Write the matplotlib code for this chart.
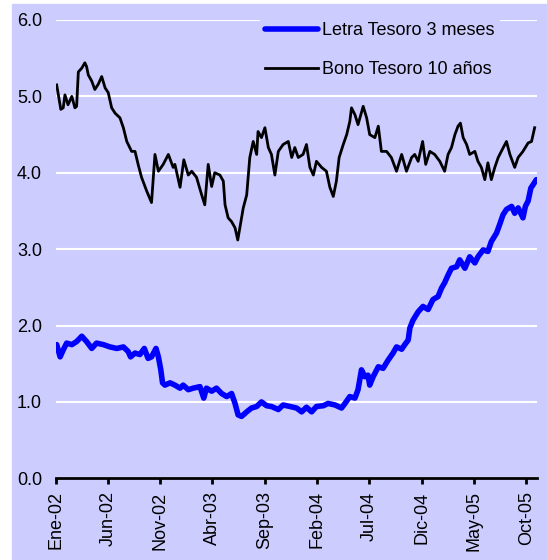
import pandas as pd
import matplotlib.pyplot as plt

# Bono Tesoro 10 años
bono_dates = [
    "2002-01-03", "2002-01-15", "2002-01-22", "2002-01-27", "2002-02-05", "2002-02-16",
    "2002-02-25", "2002-03-02", "2002-03-07", "2002-03-17", "2002-03-26", "2002-03-31",
    "2002-04-05", "2002-04-15", "2002-04-24", "2002-05-04", "2002-05-14", "2002-05-24",
    "2002-06-02", "2002-06-12", "2002-06-22", "2002-07-06", "2002-07-16", "2002-07-26",
    "2002-08-09", "2002-08-19", "2002-08-28", "2002-09-07", "2002-09-22", "2002-10-06",
    "2002-10-16", "2002-10-26", "2002-11-09", "2002-11-24", "2002-12-08", "2002-12-13",
    "2002-12-28", "2003-01-08", "2003-01-21", "2003-01-31", "2003-02-14", "2003-03-01",
    "2003-03-10", "2003-03-20", "2003-03-30", "2003-04-08", "2003-04-23", "2003-05-03",
    "2003-05-08", "2003-05-17", "2003-05-27", "2003-06-06", "2003-06-14", "2003-06-20",
    "2003-06-30", "2003-07-10", "2003-07-19", "2003-07-29", "2003-08-08", "2003-08-12",
    "2003-08-22", "2003-09-01", "2003-09-11", "2003-09-20", "2003-09-30", "2003-10-10",
    "2003-10-24", "2003-11-08", "2003-11-18", "2003-11-27", "2003-12-07", "2003-12-21",
    "2003-12-31", "2004-01-10", "2004-01-20", "2004-01-29", "2004-02-13", "2004-02-27",
    "2004-03-08", "2004-03-18", "2004-03-27", "2004-04-04", "2004-04-16", "2004-04-26",
    "2004-05-05", "2004-05-10", "2004-05-20", "2004-05-29", "2004-06-13", "2004-06-23",
    "2004-07-02", "2004-07-17", "2004-07-27", "2004-08-05", "2004-08-20", "2004-09-03",
    "2004-09-18", "2004-10-03", "2004-10-17", "2004-11-01", "2004-11-10", "2004-11-20",
    "2004-12-03", "2004-12-12", "2004-12-24", "2005-01-07", "2005-01-22", "2005-02-05",
    "2005-02-15", "2005-02-25", "2005-03-07", "2005-03-16", "2005-03-23", "2005-03-31",
    "2005-04-10", "2005-04-19", "2005-05-04", "2005-05-13", "2005-05-23", "2005-06-02",
    "2005-06-11", "2005-06-21", "2005-07-01", "2005-07-11", "2005-07-20", "2005-08-04",
    "2005-08-14", "2005-08-28", "2005-09-07", "2005-09-21", "2005-10-06", "2005-10-16",
    "2005-10-25",
]
bono_vals = [
    5.15, 4.83, 4.85, 5.02, 4.89, 5.00,
    4.85, 4.87, 5.32, 5.37, 5.44, 5.39,
    5.28, 5.20, 5.09, 5.16, 5.26, 5.11,
    5.05, 4.85, 4.78, 4.72, 4.59, 4.41,
    4.28, 4.28, 4.11, 3.94, 3.76, 3.61,
    4.24, 4.02, 4.11, 4.24, 4.07, 4.11,
    3.81, 4.17, 3.97, 4.02, 3.94, 3.71,
    3.58, 4.11, 3.82, 4.00, 3.97, 3.89,
    3.58, 3.41, 3.36, 3.28, 3.12, 3.28,
    3.54, 3.71, 4.20, 4.41, 4.24, 4.54,
    4.46, 4.59, 4.33, 4.24, 3.97, 4.28,
    4.37, 4.41, 4.20, 4.33, 4.20, 4.24,
    4.37, 4.07, 3.97, 4.15, 4.07, 4.02,
    3.81, 3.69, 3.89, 4.20, 4.37, 4.50,
    4.67, 4.85, 4.76, 4.63, 4.87, 4.72,
    4.50, 4.46, 4.61, 4.28, 4.28, 4.20,
    4.02, 4.24, 4.02, 4.20, 4.24, 4.15,
    4.41, 4.11, 4.28, 4.24, 4.15, 4.02,
    4.24, 4.33, 4.50, 4.61, 4.65, 4.46,
    4.37, 4.24, 4.28, 4.15, 4.07, 3.91,
    4.13, 3.91, 4.07, 4.20, 4.28, 4.41,
    4.24, 4.07, 4.20, 4.28, 4.39, 4.41,
    4.59,
]

# Letra Tesoro 3 meses
letra_dates = [
    "2002-01-03", "2002-01-13", "2002-01-22", "2002-02-01", "2002-02-16", "2002-03-02",
    "2002-03-17", "2002-03-31", "2002-04-15", "2002-04-29", "2002-05-19", "2002-06-07",
    "2002-06-27", "2002-07-16", "2002-07-30", "2002-08-06", "2002-08-19", "2002-09-02",
    "2002-09-15", "2002-09-26", "2002-10-06", "2002-10-19", "2002-10-26", "2002-11-02",
    "2002-11-07", "2002-11-14", "2002-11-29", "2002-12-13", "2002-12-28", "2003-01-06",
    "2003-01-21", "2003-02-04", "2003-02-24", "2003-03-07", "2003-03-15", "2003-03-30",
    "2003-04-13", "2003-04-28", "2003-05-13", "2003-05-27", "2003-06-06", "2003-06-15",
    "2003-06-25", "2003-07-10", "2003-07-24", "2003-08-08", "2003-08-22", "2003-09-06",
    "2003-09-20", "2003-10-10", "2003-10-24", "2003-11-13", "2003-12-02", "2003-12-17",
    "2003-12-31", "2004-01-15", "2004-01-29", "2004-02-18", "2004-03-03", "2004-03-23",
    "2004-04-11", "2004-04-21", "2004-05-05", "2004-05-20", "2004-05-29", "2004-06-08",
    "2004-06-18", "2004-06-27", "2004-07-02", "2004-07-12", "2004-07-27", "2004-08-10",
    "2004-08-25", "2004-09-08", "2004-09-18", "2004-10-03", "2004-10-12", "2004-10-22",
    "2004-10-27", "2004-11-05", "2004-11-20", "2004-12-04", "2004-12-19", "2005-01-02",
    "2005-01-17", "2005-01-27", "2005-02-05", "2005-02-15", "2005-02-25", "2005-03-12",
    "2005-03-21", "2005-04-05", "2005-04-19", "2005-05-04", "2005-05-13", "2005-05-28",
    "2005-06-11", "2005-06-21", "2005-07-06", "2005-07-15", "2005-07-25", "2005-08-04",
    "2005-08-19", "2005-08-28", "2005-09-07", "2005-09-21", "2005-09-28", "2005-10-06",
    "2005-10-14", "2005-10-20", "2005-10-30",
]
letra_vals = [
    1.75, 1.59, 1.68, 1.77, 1.75, 1.79,
    1.86, 1.79, 1.70, 1.77, 1.75, 1.72,
    1.70, 1.72, 1.66, 1.59, 1.64, 1.62,
    1.70, 1.57, 1.59, 1.70, 1.59, 1.42,
    1.25, 1.22, 1.25, 1.22, 1.18, 1.22,
    1.16, 1.18, 1.20, 1.05, 1.18, 1.14,
    1.18, 1.11, 1.07, 1.11, 0.98, 0.83,
    0.81, 0.87, 0.92, 0.94, 1.00, 0.95,
    0.94, 0.90, 0.96, 0.94, 0.92, 0.87,
    0.93, 0.87, 0.94, 0.95, 0.98, 0.96,
    0.92, 0.98, 1.07, 1.05, 1.16, 1.42,
    1.33, 1.35, 1.22, 1.33, 1.46, 1.44,
    1.55, 1.64, 1.72, 1.69, 1.75, 1.81,
    1.97, 2.07, 2.18, 2.25, 2.21, 2.34,
    2.38, 2.49, 2.56, 2.66, 2.75, 2.77,
    2.86, 2.75, 2.90, 2.82, 2.90, 2.99,
    2.97, 3.10, 3.21, 3.32, 3.45, 3.52,
    3.56, 3.47, 3.54, 3.41, 3.56, 3.63,
    3.80, 3.84, 3.91,
]

tick_dates = ["2002-01-01", "2002-06-01", "2002-11-01", "2003-04-01", "2003-09-01",
              "2004-02-01", "2004-07-01", "2004-12-01", "2005-05-01", "2005-10-01"]
tick_labels = ["Ene-02", "Jun-02", "Nov-02", "Abr-03", "Sep-03",
               "Feb-04", "Jul-04", "Dic-04", "May-05", "Oct-05"]

BG = "#CCCCFF"
W, H = 547, 560

plt.rcParams["font.family"] = ["Liberation Sans", "DejaVu Sans"]

fig = plt.figure(figsize=(W / 100, H / 100), dpi=100)
fig.patch.set_facecolor("white")
# lavender panel, leaves a thin white strip on the left and top
fig.add_artist(plt.Rectangle((12 / W, 0), 1 - 12 / W, 1 - 4 / H,
                             transform=fig.transFigure, color=BG, zorder=-1))

ax = fig.add_axes([56 / W, 1 - 478.3 / H, (536.7 - 56) / W, (478.3 - 20) / H])
ax.set_facecolor(BG)

ax.plot(pd.to_datetime(letra_dates), letra_vals, color="#0000FF", lw=4.0,
        label="Letra Tesoro 3 meses", solid_capstyle="round", solid_joinstyle="round")
ax.plot(pd.to_datetime(bono_dates), bono_vals, color="black", lw=2.0,
        label="Bono Tesoro 10 años")

ax.set_ylim(0, 6)
ax.set_yticks([0, 1, 2, 3, 4, 5, 6])
ax.set_yticklabels([f"{v:.1f}" for v in range(7)])
ax.set_xlim(pd.Timestamp("2002-01-01"), pd.Timestamp("2005-10-31"))
ax.set_xticks(pd.to_datetime(tick_dates))
ax.set_xticklabels(tick_labels, rotation=90)

ax.grid(axis="y", color="white", lw=1.5)
ax.set_axisbelow(True)
for side in ["left", "right", "top"]:
    ax.spines[side].set_visible(False)
ax.spines["bottom"].set_linewidth(2)
ax.tick_params(axis="x", direction="out", length=4.5, width=2, pad=5, labelsize=13)
ax.tick_params(axis="y", length=0, pad=10, labelsize=13)

leg = ax.legend(loc="upper right", bbox_to_anchor=(500 / W, 1 - 17 / H),
                bbox_transform=fig.transFigure, frameon=True, fontsize=13,
                handlelength=2.9, handletextpad=0.25, borderpad=0.3,
                labelspacing=1.2, borderaxespad=0)
leg.get_frame().set_facecolor(BG)
leg.get_frame().set_edgecolor("none")
leg.get_frame().set_alpha(1)

plt.savefig("out.png", dpi=100)
